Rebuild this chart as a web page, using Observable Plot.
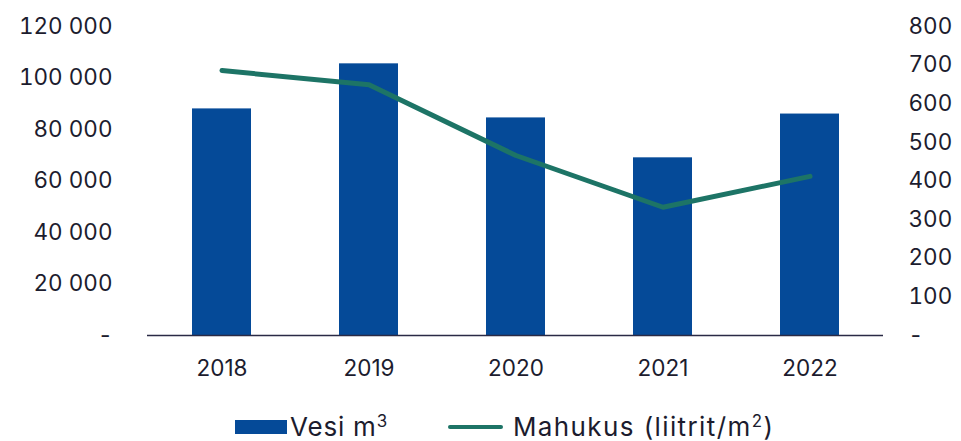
<!DOCTYPE html>
<html>
<head>
<meta charset="utf-8">
<script src="https://cdn.jsdelivr.net/npm/d3@7"></script>
<script src="https://cdn.jsdelivr.net/npm/@observablehq/plot@0.6"></script>
<style>
  html, body { margin: 0; padding: 0; background: #fff; }
  body { width: 961px; height: 441px; overflow: hidden; font-family: Inter, "Noto Sans", sans-serif; color: #1c1c2e; }
  #legend { display: flex; justify-content: flex-start; align-items: center; height: 41px; font-size: 26px; padding-left: 235px; padding-top: 12px; box-sizing: border-box; line-height: 1; }
  .item { display: flex; align-items: center; }
  .sw-bar { width: 52px; height: 14px; background: #054a98; margin-right: 3px; }
  .sw-line { width: 55px; height: 4px; border-radius: 2px; background: #1d7466; margin-right: 10px; margin-left: 60px; }
  .lab2 { letter-spacing: 1.4px; }
  .lab1 { letter-spacing: 0.8px; }
</style>
</head>
<body>
<div id="chart"></div>
<div id="legend">
  <div class="item"><div class="sw-bar"></div><span class="lab1">Vesi m<sup style="font-size:0.65em;vertical-align:0.55em">3</sup></span></div>
  <div class="item"><div class="sw-line"></div><span class="lab2">Mahukus (liitrit/m<sup style="font-size:0.65em;vertical-align:0.55em">2</sup>)</span></div>
</div>
<script>
const years = ["2018", "2019", "2020", "2021", "2022"];
const water = [88000, 105500, 84500, 69000, 86000];
const intensity = [686, 649, 466, 332, 412];
const leftTicks = [0, 20000, 40000, 60000, 80000, 100000, 120000];
const rightTicks = [0, 100, 200, 300, 400, 500, 600, 700, 800];

const leftMax = 120000, rightMax = 800;
const k = leftMax / rightMax;

const barData = years.map((y, i) => ({year: y, value: water[i]}));
const lineData = years.map((y, i) => ({year: y, value: intensity[i] * k}));

const fmt = d => d === 0 ? "-" : d3.format(",")(d).replace(/,/g, " ");

const chart = Plot.plot({
  width: 961,
  height: 400,
  marginLeft: 147,
  marginRight: 78,
  marginTop: 26,
  marginBottom: 65,
  style: {fontFamily: "Inter, 'Noto Sans', sans-serif", fontSize: "22.5px", color: "#1c1c2e", background: "#fff"},
  x: {domain: years, paddingInner: 0.6, paddingOuter: 0.3, label: null},
  y: {domain: [0, leftMax], label: null},
  marks: [
    Plot.barY(barData, {x: "year", y: "value", fill: "#054a98"}),
    Plot.ruleY([0], {stroke: "#2a2a45", strokeWidth: 1.5}),
    Plot.line(lineData, {x: "year", y: "value", stroke: "#1d7466", strokeWidth: 5, strokeLinecap: "round", strokeLinejoin: "round"}),
    Plot.axisY(leftTicks, {anchor: "left", tickSize: 0, tickPadding: 35, tickFormat: fmt, label: null}),
    Plot.axisY(rightTicks.map(d => d * k), {anchor: "right", tickSize: 0, tickPadding: 25, textAnchor: "start", tickFormat: d => fmt(Math.round(d / k)), label: null}),
    Plot.axisX({tickSize: 0, tickPadding: 25, label: null})
  ]
});
document.getElementById("chart").appendChild(chart);
</script>
</body>
</html>
